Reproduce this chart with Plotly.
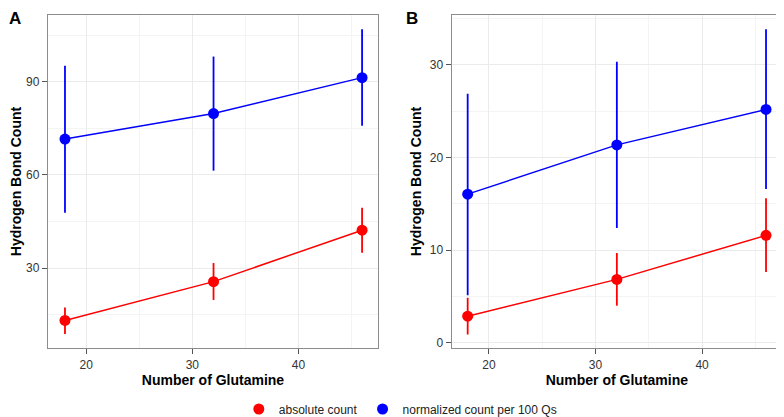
import plotly.graph_objects as go

glutamine = [18, 32, 46]

# panel A
a_abs = [13.1, 25.6, 42.2]
a_abs_hi = [17.3, 31.6, 49.4]
a_abs_lo = [8.7, 19.7, 34.9]
a_norm = [71.6, 79.8, 91.4]
a_norm_hi = [95.2, 98.2, 107.0]
a_norm_lo = [47.8, 61.4, 75.9]

# panel B
b_abs = [2.87, 6.84, 11.6]
b_abs_hi = [4.85, 9.7, 15.6]
b_abs_lo = [0.9, 4.0, 7.65]
b_norm = [16.05, 21.37, 25.2]
b_norm_hi = [26.9, 30.36, 33.85]
b_norm_lo = [5.14, 12.4, 16.6]

series_names = ["absolute count", "normalized count per 100 Qs"]
colors = ["#ff0000", "#0000ff"]
FONT = "Liberation Sans, Arial, sans-serif"

# the page body keeps its default 8px margin, so the figure is 8px smaller
W, H = 776, 409
ML, MR, MT, MB = 40, 2, 7, 69


def trace(y, hi, lo, name, color, xa, ya):
    return go.Scatter(
        x=glutamine, y=y, name=name, mode="lines+markers",
        line=dict(color=color, width=1.5),
        marker=dict(color=color, size=11),
        error_y=dict(type="data", symmetric=False,
                     array=[h - v for h, v in zip(hi, y)],
                     arrayminus=[v - l for v, l in zip(y, lo)],
                     color=color, thickness=1.8, width=0),
        xaxis=xa, yaxis=ya, showlegend=False,
    )


fig = go.Figure()
fig.add_trace(trace(a_abs, a_abs_hi, a_abs_lo, series_names[0], colors[0], "x", "y"))
fig.add_trace(trace(a_norm, a_norm_hi, a_norm_lo, series_names[1], colors[1], "x", "y"))
fig.add_trace(trace(b_abs, b_abs_hi, b_abs_lo, series_names[0], colors[0], "x2", "y2"))
fig.add_trace(trace(b_norm, b_norm_hi, b_norm_lo, series_names[1], colors[1], "x2", "y2"))

# legend-only dots
for name, color in zip(series_names, colors):
    fig.add_trace(go.Scatter(x=[None], y=[None], name=name, mode="markers",
                             marker=dict(color=color, size=11), showlegend=True))

axis_common = dict(
    showline=True, linecolor="#8c8c8c", linewidth=1.3, mirror=True,
    showgrid=True, gridcolor="#ebebeb", gridwidth=1,
    ticks="outside", ticklen=5, tickcolor="#555555",
    tickfont=dict(size=12, color="#333333"), zeroline=False,
    minor=dict(showgrid=True, gridcolor="#f4f4f4", gridwidth=0.8, ticks=""),
)
title_font = dict(size=14, color="black", family=FONT)
plot_w, plot_h = W - ML - MR, H - MT - MB

fig.update_layout(
    width=W, height=H,
    margin=dict(l=ML, r=MR, t=MT, b=MB, autoexpand=False),
    plot_bgcolor="white", paper_bgcolor="white",
    font=dict(family=FONT),
    xaxis=dict(domain=[0, 330 / plot_w], range=[16.4, 47.5], tickvals=[20, 30, 40],
               title=dict(text="<b>Number of Glutamine</b>", font=title_font, standoff=4),
               anchor="y", **axis_common),
    yaxis=dict(range=[4.2, 111.6], tickvals=[30, 60, 90],
               title=dict(text="<b>Hydrogen Bond Count</b>", font=title_font, standoff=6),
               anchor="x", **axis_common),
    xaxis2=dict(domain=[403.7 / plot_w, 1], range=[16.5, 47.5], tickvals=[20, 30, 40],
                title=dict(text="<b>Number of Glutamine</b>", font=title_font, standoff=4),
                anchor="y2", **axis_common),
    yaxis2=dict(range=[-0.57, 35.4], tickvals=[0, 10, 20, 30],
                title=dict(text="<b>Hydrogen Bond Count</b>", font=title_font, standoff=4),
                anchor="x2", **axis_common),
    legend=dict(orientation="h", x=0.48, xanchor="center", y=-61 / plot_h, yanchor="middle",
                font=dict(size=12, color="#222222"), itemwidth=30),
    annotations=[
        dict(text="<b>A</b>", x=-ML / plot_w, y=1 + MT / plot_h, xref="paper", yref="paper",
             showarrow=False, font=dict(size=17, color="black"), xanchor="left", yanchor="top",
             borderpad=0),
        dict(text="<b>B</b>", x=(397 - ML) / plot_w, y=1 + MT / plot_h, xref="paper", yref="paper",
             showarrow=False, font=dict(size=17, color="black"), xanchor="left", yanchor="top",
             borderpad=0),
    ],
)

# minor grid positions (midpoints between major ticks)
fig.update_xaxes(minor=dict(tickvals=[25, 35, 45]))
fig.update_layout(yaxis_minor_tickvals=[15, 45, 75, 105],
                  yaxis2_minor_tickvals=[5, 15, 25, 35])

fig.write_html("out.html")
